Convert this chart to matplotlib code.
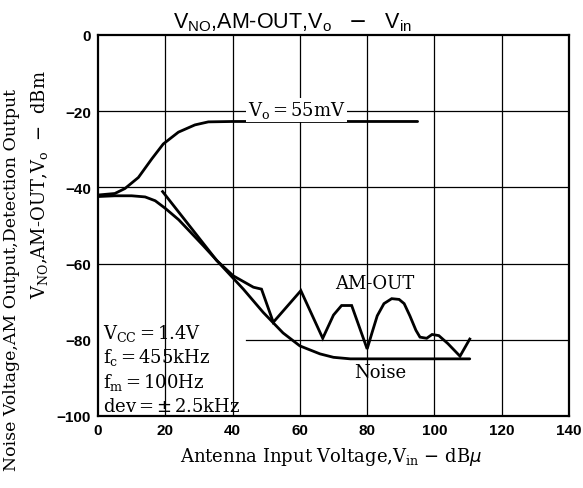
import matplotlib
matplotlib.use("Agg")
import matplotlib.pyplot as plt

# Data
vo_x = [0, 5, 8, 12, 16, 19.4, 23.9, 28.8, 32.8, 40, 60, 80, 95]
vo_y = [-42.0, -41.6, -40.3, -37.4, -32.5, -28.6, -25.5, -23.6, -22.8, -22.7, -22.7, -22.7, -22.7]

noise_x = [0, 5, 10, 14, 17, 20, 24, 31.3, 37.2, 43.2, 49.1, 55, 60, 66, 70, 75, 80, 95, 110.5]
noise_y = [-42.4, -42.2, -42.2, -42.5, -43.5, -45.5, -48.5, -55.3, -61, -66.7, -72.8, -78.2, -81.6, -83.7, -84.6, -85, -85, -85, -85]

am_x = [19.2, 35.3, 40.2, 46.2, 48.6, 52.1, 60.3, 66.8, 70, 72.4, 75.4, 80, 81.5, 83, 85, 87.3, 89.5, 91, 92.7, 94.5, 95.7, 97.7, 99.3, 101.3, 104, 107.6, 110.5]
am_y = [-41.1, -59.2, -63.2, -66.2, -66.7, -75.4, -67.1, -79.6, -73.5, -71.0, -71.0, -82.4, -78, -73.7, -70.5, -69.2, -69.4, -70.5, -73.7, -77.5, -79.3, -79.6, -78.6, -78.9, -81, -84.3, -79.8]

x_ticks = [0, 20, 40, 60, 80, 100, 120, 140]
y_ticks = [0, -20, -40, -60, -80, -100]
x_tick_labels = ["0", "20", "40", "60", "80", "100", "120", "140"]
y_tick_labels = ["0", "\u221220", "\u221240", "\u221260", "\u221280", "\u2212100"]

serif = "DejaVu Serif"
fs = 13

fig = plt.figure(figsize=(5.83, 4.89), dpi=100)
ax = fig.add_axes([98/583, 1-417/489, (569-98)/583, (417-36)/489])
ax.set_xlim(0, 140)
ax.set_ylim(-100, 0)

# grid
for xv in x_ticks[1:-1]:
    ax.axvline(xv, color="black", lw=0.9, zorder=1)
for yv in [-20, -40, -60]:
    ax.axhline(yv, color="black", lw=0.9, zorder=1)
ax.plot([44, 140], [-80, -80], color="black", lw=0.9, zorder=1)

ax.plot(vo_x, vo_y, color="black", lw=2.0, zorder=3, solid_capstyle="round")
ax.plot(noise_x, noise_y, color="black", lw=2.0, zorder=3, solid_capstyle="round")
ax.plot(am_x, am_y, color="black", lw=2.0, zorder=3, solid_joinstyle="miter")

for s in ax.spines.values():
    s.set_linewidth(1.6)

ax.set_xticks(x_ticks)
ax.set_xticklabels(x_tick_labels, fontfamily="Liberation Sans", fontweight="bold", fontsize=11)
ax.set_yticks(y_ticks)
ax.set_yticklabels(y_tick_labels, fontfamily="Liberation Sans", fontweight="bold", fontsize=11)
ax.tick_params(length=0, pad=5)

# annotations
ax.text(59, -19.6, r"V$_\mathregular{o}$$\,$=$\,$55mV", family=serif, fontsize=fs, ha="center", va="center",
        bbox=dict(facecolor="white", edgecolor="none", pad=1), zorder=4)
ax.text(82.3, -65.1, "AM-OUT", family=serif, fontsize=fs, ha="center", va="center", zorder=4)
ax.text(83.8, -88.5, "Noise", family=serif, fontsize=fs, ha="center", va="center", zorder=4)

cond = [r"V$_\mathregular{CC}$$\,$=$\,$1.4V",
        r"f$_\mathregular{c}$$\,$=$\,$455kHz",
        r"f$_\mathregular{m}$$\,$=$\,$100Hz",
        r"dev$\,$=$\,$$\pm\,$2.5kHz"]
cond_y = [-78, -84.5, -91, -97.4]
for t, yy in zip(cond, cond_y):
    ax.text(1.5, yy, t, family=serif, fontsize=fs, ha="left", va="center", zorder=4)

fig.text(293/583, 1-23/489, r"V$_\mathregular{NO}$,AM-OUT,V$_\mathregular{o}$   $-$   V$_\mathregular{in}$",
         family="Liberation Sans", fontsize=15.5, ha="center", va="center")
fig.text(331/583, 1-457/489, r"Antenna Input Voltage,V$_\mathregular{in}$ $-$ dB$\mu$",
         family=serif, fontsize=fs, ha="center", va="center")
fig.text(12/583, 1-280/489, "Noise Voltage,AM Output,Detection Output", family=serif, fontsize=12.5,
         rotation=90, ha="center", va="center")
fig.text(40/583, 1-185/489, r"V$_\mathregular{NO}$,AM-OUT,V$_\mathregular{o}$  $-$  dBm", family=serif, fontsize=fs,
         rotation=90, ha="center", va="center")

fig.savefig("out.png", dpi=100)
